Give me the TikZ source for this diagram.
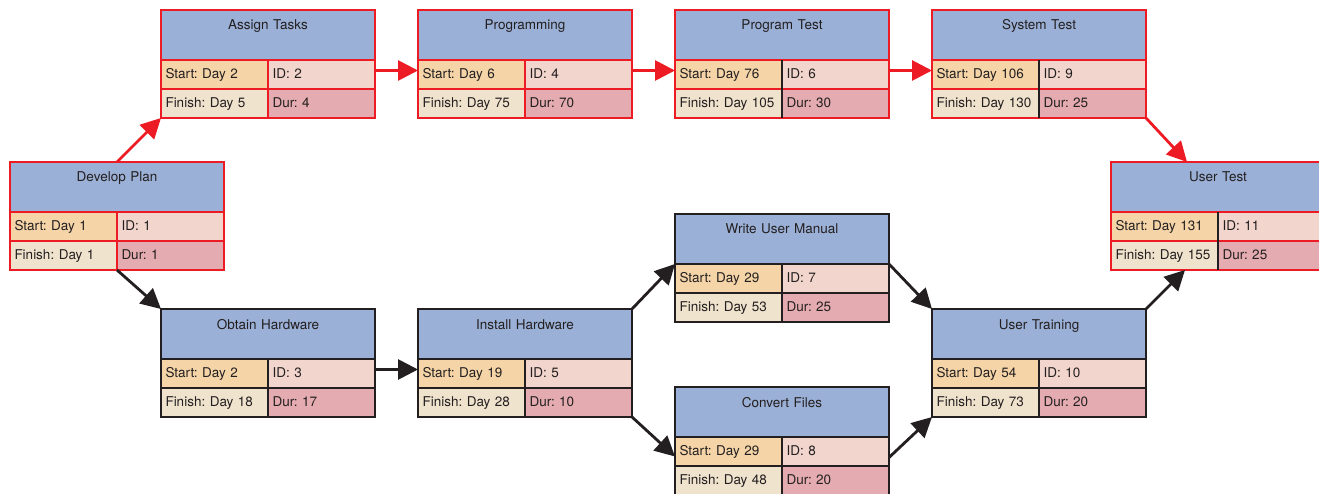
\documentclass[tikz,border=0pt]{standalone}
\usepackage{fontspec}
\setmainfont{TeX Gyre Heros}
\usepackage{xcolor}
\usepackage{tikz}
\usetikzlibrary{positioning, arrows.meta}
\frenchspacing

\definecolor{hdrblue}{HTML}{9BB0D6}
\definecolor{startc}{HTML}{F5D5A8}
\definecolor{idc}{HTML}{F2D5CC}
\definecolor{finishc}{HTML}{F0E3CD}
\definecolor{durc}{HTML}{E4ACB0}
\definecolor{critred}{HTML}{ED1C24}
\definecolor{inkblack}{HTML}{231F20}

% one activity box: name, position, border colour, title, start, id, finish, dur
\newcommand{\taskbox}[8]{%
  \node[head, draw=#3] (#1) at #2 {#4};
  \node[cell, fill=startc, draw=#3, below right=0pt and 0pt of #1.south west] (#1-s) {Start: Day #5};
  \node[cell, fill=idc, draw=#3, right=0pt of #1-s] (#1-i) {ID: #6};
  \node[cell, fill=finishc, draw=#3, below=0pt of #1-s] (#1-f) {Finish: Day #7};
  \node[cell, fill=durc, draw=#3, right=0pt of #1-f] (#1-d) {Dur: #8};
}

\begin{document}
\begin{tikzpicture}[x=1pt, y=-1pt,
  every node/.style={font=\fontsize{13.5}{16}\selectfont, text=inkblack, outer sep=0pt},
  head/.style={rectangle, fill=hdrblue, line width=2.5pt, anchor=north west, minimum width=214pt, minimum height=50pt,
    text width=202pt, inner xsep=6pt, inner ysep=8pt, align=center, text height=12pt, text depth=22pt},
  cell/.style={rectangle, line width=2.5pt, minimum width=107pt, minimum height=29pt, text width=98pt,
    inner xsep=4.5pt, inner ysep=0pt, align=left, text height=10pt, text depth=1.5pt},
  redarrow/.style={line width=2.8pt, draw=critred, ->, >={Triangle[length=20pt,width=20pt]}},
  blackarrow/.style={line width=2.8pt, draw=inkblack, ->, >={Triangle[length=20pt,width=20pt]}},
  divider/.style={line width=2.5pt, draw=inkblack}]

  \useasboundingbox (0,0) rectangle (1319,494);

  % critical path
  \taskbox{dp}{(10,162)}{critred}{Develop Plan}{1}{1}{1}{1}
  \taskbox{at}{(161,10)}{critred}{Assign Tasks}{2}{2}{5}{4}
  \taskbox{pg}{(418,10)}{critred}{Programming}{6}{4}{75}{70}
  \taskbox{pt}{(675,10)}{critred}{Program Test}{76}{6}{105}{30}
  \taskbox{st}{(932,10)}{critred}{System Test}{106}{9}{130}{25}
  \taskbox{ut}{(1111,162)}{critred}{User Test}{131}{11}{155}{25}

  % other tasks
  \taskbox{oh}{(161,309)}{inkblack}{Obtain Hardware}{2}{3}{18}{17}
  \taskbox{ih}{(418,309)}{inkblack}{Install Hardware}{19}{5}{28}{10}
  \taskbox{wm}{(675,214)}{inkblack}{Write User Manual}{29}{7}{53}{25}
  \taskbox{cf}{(675,387)}{inkblack}{Convert Files}{29}{8}{48}{20}
  \taskbox{tr}{(932,309)}{inkblack}{User Training}{54}{10}{73}{20}

  \draw[divider] (pt-s.north east) -- (pt-f.south east);
  \draw[divider] (st-s.north east) -- (st-f.south east);
  \draw[divider] (ut-s.north east) -- (ut-f.south east);

  \draw[redarrow] (dp.north) -- (at-f.south west);
  \draw[redarrow] ([yshift=4pt]at-i.east) -- ([yshift=4pt]pg-s.west);
  \draw[redarrow] ([yshift=4pt]pg-i.east) -- ([yshift=4pt]pt-s.west);
  \draw[redarrow] ([yshift=4pt]pt-i.east) -- ([yshift=4pt]st-s.west);
  \draw[redarrow] (st-d.south east) -- ([xshift=76pt]ut.north west);

  \draw[blackarrow] (dp-f.south east) -- (oh.north west);
  \draw[blackarrow] ([yshift=4pt]oh-i.east) -- ([yshift=4pt]ih-s.west);
  \draw[blackarrow] (ih.north east) -- (wm-s.north west);
  \draw[blackarrow] (ih-d.south east) -- ([yshift=-5pt]cf-s.west);
  \draw[blackarrow] (wm.south east) -- (tr.north west);
  \draw[blackarrow] ([yshift=-6pt]cf-i.east) -- (tr-f.south west);
  \draw[blackarrow] (tr.north east) -- ([xshift=74pt]ut-f.south west);
\end{tikzpicture}
\end{document}
